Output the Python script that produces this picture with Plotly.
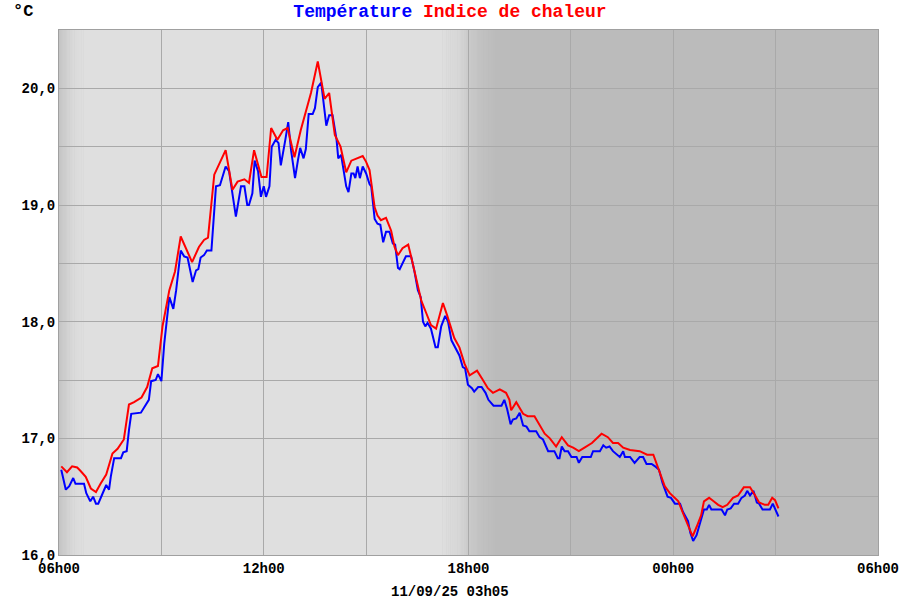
import plotly.graph_objects as go
from datetime import datetime, timedelta

# ---------------- data ----------------
DAY0 = "2025-09-10"
temp_times = ["06:04","06:12","06:18","06:25","06:29","06:44","06:48","06:55","07:00","07:05","07:09","07:16","07:23","07:28","07:31","07:37","07:49","07:53","07:59","08:03","08:07","08:24","08:30","08:38","08:42","08:50","08:54","09:00","09:05","09:09","09:14","09:21","09:26","09:34","09:40","09:46","09:55","10:01","10:05","10:09","10:15","10:20","10:28","10:36","10:43","10:53","10:59","11:11","11:20","11:26","11:31","11:34","11:40","11:44","11:50","11:55","12:00","12:04","12:10","12:14","12:21","12:26","12:30","12:38","12:43","12:48","12:55","13:00","13:04","13:10","13:14","13:19","13:26","13:30","13:35","13:41","13:45","13:50","13:55","14:01","14:08","14:11","14:16","14:20","14:25","14:29","14:34","14:38","14:41","14:45","14:49","14:54","15:00","15:06","15:09","15:15","15:20","15:25","15:30","15:35","15:41","15:47","15:51","15:56","15:59","16:10","16:19","16:25","16:31","16:36","16:40","16:44","16:48","16:54","17:02","17:06","17:12","17:19","17:24","17:30","17:38","17:44","17:50","17:54","17:59","18:06","18:10","18:17","18:23","18:30","18:35","18:44","18:58","19:03","19:08","19:14","19:18","19:24","19:30","19:36","19:42","19:47","19:59","20:05","20:11","20:20","20:31","20:37","20:40","20:44","20:49","20:55","21:01","21:10","21:14","21:20","21:35","21:39","21:51","21:57","22:02","22:08","22:14","22:26","22:32","22:35","22:44","22:52","23:01","23:07","23:13","23:22","23:28","23:35","23:41","23:50","23:56","00:03","00:12","00:17","00:26","00:30","00:35","00:41","00:48","00:54","00:59","01:03","01:07","01:25","01:31","01:35","01:41","01:47","01:54","02:00","02:06","02:10","02:15","02:21","02:27","02:31","02:37","02:50","02:55","02:59","03:05"]
temp_values = [16.73,16.56,16.59,16.66,16.61,16.61,16.53,16.46,16.50,16.44,16.44,16.52,16.60,16.56,16.67,16.83,16.83,16.88,16.89,17.07,17.21,17.22,17.27,17.33,17.49,17.50,17.55,17.49,17.81,17.99,18.21,18.11,18.27,18.61,18.56,18.55,18.34,18.44,18.45,18.55,18.57,18.61,18.61,19.16,19.17,19.33,19.29,18.90,19.16,19.16,19.00,19.00,19.10,19.38,19.29,19.07,19.16,19.07,19.16,19.50,19.56,19.53,19.34,19.56,19.71,19.47,19.23,19.38,19.49,19.40,19.48,19.78,19.78,19.83,20.01,20.05,19.87,19.68,19.77,19.77,19.56,19.40,19.43,19.29,19.16,19.11,19.27,19.27,19.23,19.33,19.23,19.33,19.27,19.18,19.16,18.88,18.84,18.83,18.68,18.77,18.77,18.67,18.66,18.46,18.45,18.56,18.56,18.43,18.27,18.21,18.00,17.96,17.99,17.94,17.78,17.78,17.96,18.05,18.00,17.84,17.76,17.71,17.61,17.60,17.46,17.43,17.40,17.44,17.44,17.39,17.33,17.28,17.28,17.33,17.25,17.12,17.16,17.17,17.22,17.11,17.10,17.06,17.06,17.01,16.99,16.89,16.89,16.83,16.83,16.93,16.89,16.89,16.84,16.84,16.79,16.84,16.84,16.89,16.89,16.94,16.92,16.93,16.89,16.84,16.89,16.84,16.84,16.79,16.84,16.84,16.78,16.78,16.76,16.73,16.62,16.50,16.49,16.44,16.44,16.37,16.29,16.19,16.12,16.17,16.29,16.39,16.39,16.43,16.39,16.39,16.34,16.39,16.40,16.44,16.44,16.49,16.51,16.55,16.51,16.55,16.45,16.44,16.39,16.39,16.44,16.40,16.33]

heat_times = ["06:04","06:14","06:23","06:32","06:38","06:47","06:56","07:05","07:13","07:23","07:34","07:43","07:54","08:03","08:12","08:25","08:35","08:44","08:54","09:02","09:14","09:24","09:34","09:43","09:54","10:06","10:15","10:22","10:33","10:53","11:05","11:14","11:26","11:34","11:43","11:56","12:05","12:13","12:24","12:34","12:42","12:54","13:05","13:23","13:35","13:47","13:55","14:05","14:15","14:25","14:34","14:54","15:00","15:06","15:10","15:15","15:20","15:26","15:35","15:44","15:50","15:56","16:04","16:14","16:20","16:28","16:37","16:46","16:54","17:03","17:15","17:22","17:30","17:35","17:44","17:53","18:02","18:15","18:24","18:34","18:43","18:55","19:06","19:12","19:15","19:24","19:36","19:44","19:56","20:05","20:14","20:23","20:34","20:44","20:55","21:04","21:14","21:24","21:37","21:54","22:05","22:14","22:23","22:32","22:44","23:01","23:14","23:25","23:33","23:45","23:54","00:03","00:09","00:17","00:26","00:34","00:41","00:49","00:54","01:03","01:11","01:19","01:27","01:35","01:45","01:54","02:04","02:15","02:24","02:31","02:41","02:47","02:54","02:59","03:05"]
heat_values = [16.76,16.71,16.76,16.75,16.72,16.67,16.57,16.54,16.61,16.69,16.87,16.91,16.99,17.29,17.31,17.35,17.44,17.60,17.62,17.96,18.27,18.43,18.73,18.63,18.51,18.64,18.70,18.72,19.26,19.47,19.13,19.20,19.22,19.19,19.47,19.24,19.24,19.66,19.56,19.64,19.66,19.41,19.64,19.96,20.23,19.91,19.96,19.60,19.50,19.28,19.38,19.42,19.37,19.30,19.17,18.98,18.91,18.87,18.89,18.78,18.64,18.57,18.63,18.66,18.54,18.36,18.18,18.07,17.97,17.94,18.16,18.06,17.93,17.86,17.78,17.64,17.54,17.58,17.51,17.43,17.39,17.42,17.39,17.33,17.24,17.31,17.21,17.19,17.19,17.11,17.04,17.00,16.93,17.01,16.94,16.92,16.89,16.92,16.96,17.04,17.01,16.96,16.96,16.92,16.90,16.89,16.86,16.86,16.75,16.59,16.53,16.49,16.46,16.36,16.26,16.16,16.24,16.34,16.46,16.49,16.46,16.43,16.41,16.43,16.49,16.51,16.58,16.58,16.51,16.45,16.43,16.43,16.49,16.47,16.40]

series_names = ["Température", "Indice de chaleur"]
y_tick_step = 1.0
footer_text = "11/09/25 03h05"
unit_text = "°C"

# ---------------- helpers ----------------
start = datetime.fromisoformat(DAY0 + " 06:00")
end = start + timedelta(hours=24)

def to_dt(hm):
    h, m = map(int, hm.split(":"))
    d = start.replace(hour=h, minute=m)
    if d < start:
        d += timedelta(days=1)
    return d

FONT = "Liberation Mono"
GRID = "#a9a9a9"

fig = go.Figure()
fig.add_trace(go.Scatter(x=[to_dt(t) for t in temp_times], y=temp_values, mode="lines",
                         name=series_names[0], line=dict(color="#0000ff", width=2)))
fig.add_trace(go.Scatter(x=[to_dt(t) for t in heat_times], y=heat_values, mode="lines",
                         name=series_names[1], line=dict(color="#ff0000", width=2)))

# background day/night shading (gradient approximated by thin rectangles)
stops = [(0, 196), (10, 206), (25, 218), (45, 223), (672, 223), (705, 214),
         (720, 204), (740, 194), (770, 187), (1440, 187)]
def grey_at(mn):
    for (a, ga), (b, gb) in zip(stops[:-1], stops[1:]):
        if a <= mn <= b:
            return ga + (gb - ga) * (mn - a) / (b - a)
    return stops[-1][1]

shapes = []
step = 1
mn = 0
cur_start, cur_g = 0, round(grey_at(0))
while mn < 1440:
    g = round(grey_at(mn + step / 2))
    if g != cur_g:
        shapes.append((cur_start, mn, cur_g))
        cur_start, cur_g = mn, g
    mn += step
shapes.append((cur_start, 1440, cur_g))
for a, b, g in shapes:
    fig.add_shape(type="rect", xref="x", yref="y domain",
                  x0=start + timedelta(minutes=a), x1=start + timedelta(minutes=b + 0.6),
                  y0=0, y1=1, line=dict(width=0),
                  fillcolor=f"rgb({g},{g},{g})", layer="below")

fig.update_layout(
    width=900, height=600,
    margin=dict(l=59, r=22, t=30, b=45, autoexpand=False),
    paper_bgcolor="white", plot_bgcolor="#bbbbbb",
    separators=",.",
    showlegend=False,
    hovermode=False,
    font=dict(family=FONT, size=14, color="black"),
    title=dict(text="<span style='color:#0000ff'>" + series_names[0] + "</span> "
                    "<span style='color:#ff0000'>" + series_names[1] + "</span>",
               x=0.5, xref="container", xanchor="center",
               y=1 - 11 / 600, yref="container", yanchor="middle",
               font=dict(family=FONT, size=18, weight="bold")),
)
fig.update_xaxes(type="date", range=[start, end], tick0=start, dtick=6 * 3600000,
                 tickformat="%Hh%M", ticks="", showgrid=True, gridcolor=GRID, gridwidth=1,
                 minor=dict(dtick=3 * 3600000, showgrid=True, gridcolor=GRID, gridwidth=1),
                 showline=True, linecolor="#a0a0a0", linewidth=1, mirror=True, zeroline=False,
                 automargin=False,
                 tickfont=dict(family=FONT, size=14, weight="bold", color="black"))
fig.update_yaxes(range=[16, 20.5], tick0=16, dtick=y_tick_step, tickformat=".1f", ticks="",
                 showgrid=True, gridcolor=GRID, gridwidth=1,
                 minor=dict(dtick=y_tick_step / 2, showgrid=True, gridcolor=GRID, gridwidth=1),
                 showline=True, linecolor="#a0a0a0", linewidth=1, mirror=True, zeroline=False,
                 automargin=False,
                 tickfont=dict(family=FONT, size=14, weight="bold", color="black"))

fig.add_annotation(text=unit_text, xref="paper", yref="paper",
                   x=(11 - 59) / 819, y=(555 - 11) / 525, xanchor="left", yanchor="middle",
                   showarrow=False, font=dict(family=FONT, size=17, weight="bold", color="black"))
fig.add_annotation(text=footer_text, xref="paper", yref="paper",
                   x=(450 - 59) / 819, y=(555 - 592) / 525, xanchor="center", yanchor="middle",
                   showarrow=False, font=dict(family=FONT, size=14, weight="bold", color="black"))

# remove the browser's default 8px body margin so the 900x600 figure fills the window
fig.write_html("out.html", config={"displayModeBar": False},
               post_script="document.body.style.margin='0';document.body.style.overflow='hidden';")
